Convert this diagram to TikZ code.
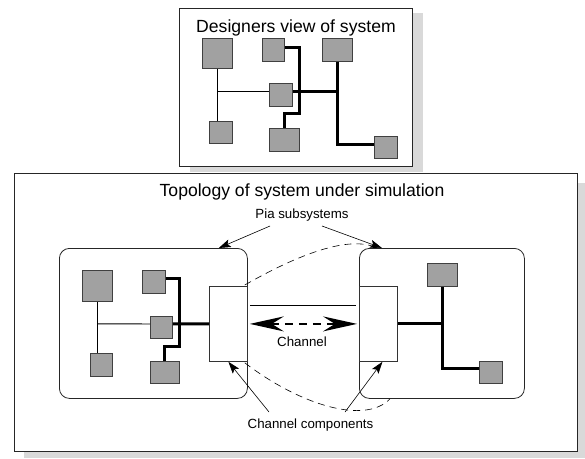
\documentclass[tikz,border=0pt]{standalone}
\usepackage{fontspec}
\setmainfont{Liberation Sans}
\usetikzlibrary{arrows.meta}
\tikzset{
  blk/.style={draw=black!75, fill=black!37, line width=.9pt, inner sep=0pt, anchor=north west},
  chan/.style={draw=black!80, fill=white, line width=.8pt, inner sep=0pt, anchor=north west},
  subsys/.style={draw=black!85, rounded corners=10pt, line width=.8pt, inner sep=0pt, anchor=north west},
  frame/.style={draw=black!85, fill=white, line width=1.4pt, inner sep=0pt, anchor=north west},
  shade/.style={fill=black!15},
  wire/.style={line width=.9pt},
  bus/.style={line width=3pt},
  big/.style={font=\fontsize{17.6}{20}\selectfont, inner sep=0pt, anchor=base},
  small/.style={font=\fontsize{13.3}{15}\selectfont, inner sep=0pt, anchor=base},
  pointer/.style={-{Stealth[length=12pt,width=8pt,inset=2.5pt]}, line width=.6pt},
  boundary/.style={dash pattern=on 7pt off 5pt, line width=.6pt},
  chantip/.tip={Stealth[length=34pt,width=15pt,inset=12pt]}
}
\begin{document}
\begin{tikzpicture}[x=1pt, y=-1pt]
\useasboundingbox (0,0) rectangle (585,458);

\fill[shade] (190,13) rectangle (423,172);
\node[frame, minimum width=233pt, minimum height=158pt] (des) at (179,8) {};
\fill[shade] (24,183) rectangle (585,458);
\node[frame, minimum width=563pt, minimum height=278pt] (sim) at (14,173) {};

\node[big] (destitle) at (296,32) {Designers view of system};
\node[big] (simtitle) at (302,196) {Topology of system under simulation};

\node[blk, minimum width=30pt, minimum height=30pt] (A) at (202,38) {};
\node[blk, minimum width=22pt, minimum height=23pt] (B) at (262,38) {};
\node[blk, minimum width=30pt, minimum height=23pt] (C) at (322,38) {};
\node[blk, minimum width=23pt, minimum height=23pt] (D) at (269,83) {};
\node[blk, minimum width=23pt, minimum height=22pt] (E) at (209,121) {};
\node[blk, minimum width=30pt, minimum height=23pt] (F) at (269,128) {};
\node[blk, minimum width=23pt, minimum height=22pt] (G) at (374,136) {};

\coordinate (dw) at ([yshift=3.5pt]D.west);
\coordinate (de) at ([yshift=3.5pt]D.east);
\draw[wire] (A.south) -- (A.south |- E.north);
\draw[wire] (dw) -- (A.south |- dw);
\draw[bus] ([yshift=2.5pt]B.east) -| ++(15,66) -| (F.north);
\draw[bus] (de) -- (de -| C.south);
\draw[bus] (C.south) |- ([yshift=3pt]G.west);

\node[subsys, minimum width=188pt, minimum height=150pt] (subL) at (59,248) {};
\node[subsys, minimum width=165pt, minimum height=150pt] (subR) at (359,248) {};
\node[chan, minimum width=38pt, minimum height=75pt] (chL) at (209,286) {};
\node[chan, minimum width=38pt, minimum height=75pt] (chR) at (359,286) {};

\node[blk, minimum width=30pt, minimum height=31pt] (a) at (82,270) {};
\node[blk, minimum width=23pt, minimum height=23pt] (b) at (142,270) {};
\node[blk, minimum width=22pt, minimum height=22pt] (c) at (150,316) {};
\node[blk, minimum width=22pt, minimum height=23pt] (d) at (90,353) {};
\node[blk, minimum width=29pt, minimum height=22pt] (e) at (150,361) {};
\node[blk, minimum width=30pt, minimum height=23pt] (p) at (427,263) {};
\node[blk, minimum width=23pt, minimum height=22pt] (q) at (479,361) {};

\draw[wire] (a.south) -- (a.south |- d.north);
\draw[wire] ([yshift=3.5pt]c.west) -- (a.south |- chL.west);
\draw[bus] ([yshift=3.5pt]b.east) -| ++(14,68) -| (e.north);
\draw[bus] ([yshift=3.5pt]c.east) -- (chL.west);
\draw[bus] (chR.east) -- (chR.east -| p.south);
\draw[bus] (p.south) |- ([yshift=4pt]q.west);

\draw[wire] ([xshift=2pt,yshift=18.5pt]chL.east) -- ([xshift=-3pt,yshift=18.5pt]chR.west);
\draw[chantip-chantip, line width=1.5pt, dash pattern=on 8pt off 6pt] ([xshift=2pt]chL.east) -- ([xshift=-2pt]chR.west);

\node[small] (pia) at (302,218) {Pia subsystems};
\node[small] (chan) at (302,346) {Channel};
\node[small] (comp) at (310.5,428) {Channel components};

\draw[pointer] ([xshift=-32pt,yshift=-8pt]pia.base) -- ([xshift=-29pt]subL.north east);
\draw[pointer] ([xshift=20pt,yshift=-8pt]pia.base) -- ([xshift=23pt]subR.north west);
\draw[pointer] ([xshift=-41.5pt,yshift=16pt]comp.base) -- (chL.south);
\draw[pointer] ([xshift=34.5pt,yshift=16pt]comp.base) -- ([xshift=4pt]chR.south);

\draw[boundary] ([xshift=-3pt,yshift=1pt]chL.north east) .. controls (285,262) and (340,236) .. ([xshift=13pt,yshift=2pt]subR.north west);
\draw[boundary] ([xshift=-3pt,yshift=-1pt]chL.south east) .. controls (300,405) and (365,425) .. ([xshift=31pt]subR.south west);
\end{tikzpicture}
\end{document}
